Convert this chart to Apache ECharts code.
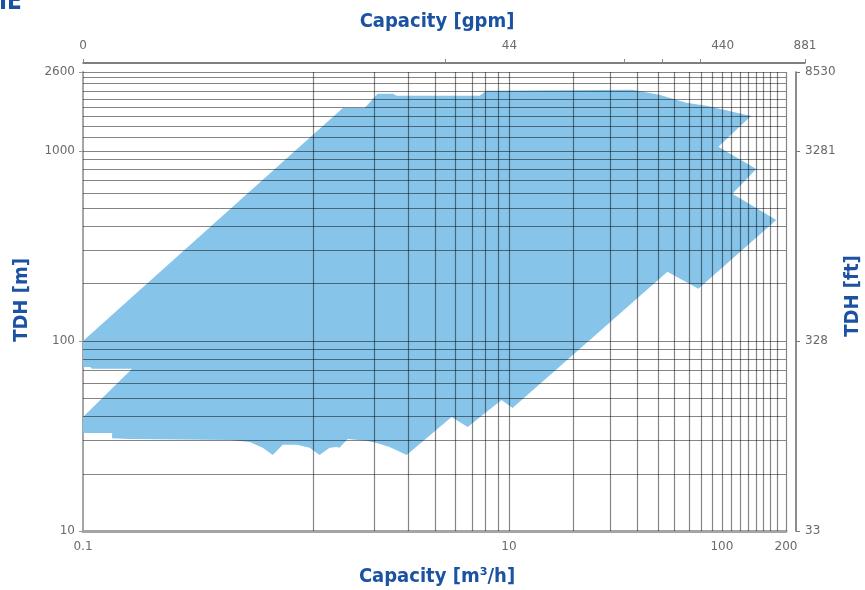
<!DOCTYPE html>
<html>
<head>
<meta charset="utf-8">
<script src="https://cdn.jsdelivr.net/npm/echarts@6/dist/echarts.min.js"></script>
<style>
html,body{margin:0;padding:0;background:#fff;}
#chart{width:865px;height:590px;}
</style>
</head>
<body>
<div id="chart"></div>
<script>
// Operating envelope (capacity m3/h, head m), traced clockwise
const envelopeQ = [0.1, 1.66, 2.10, 2.42, 2.85, 2.97, 7.28, 7.85, 38.0, 50.8, 68.0, 84.5, 137, 96.2, 145, 112, 180, 77.5, 55.5, 10.4, 9.23, 6.40, 5.38, 3.31, 2.75, 2.39, 2.15, 1.75, 1.60, 1.55, 1.44, 1.29, 1.16, 1.01, 0.867, 0.778, 0.698, 0.607, 0.489, 0.166, 0.137, 0.137, 0.1, 0.1, 0.170, 0.110, 0.108, 0.1];
const envelopeH = [100, 1683, 1683, 1995, 1995, 1948, 1948, 2070, 2094, 1972, 1790, 1727, 1528, 1050, 803, 594, 433, 188, 231, 44.4, 48.9, 35.3, 39.8, 25.1, 27.7, 29.0, 29.8, 30.5, 27.4, 27.7, 27.4, 25.1, 27.4, 28.4, 28.4, 25.1, 27.4, 29.4, 30.1, 30.5, 30.8, 32.8, 32.8, 39.8, 71.3, 71.3, 73.0, 73.0];

// grid lines
const xGridValues = [1.2, 2.32, 3.38, 4.53, 5.62, 6.75, 7.76, 8.93, 10, 20, 30, 40, 50, 60, 70, 80, 90, 100, 111, 122, 133, 145, 156, 168, 182, 200];
const yGridValues = [20, 30, 40, 50, 60, 70, 80, 90, 100, 200, 300, 400, 500, 600, 700, 800, 900, 1000, 1185, 1354, 1528, 1704, 1879, 2070, 2279, 2449, 2600];

// tick labels
const bottomTickValues = [0.1, 10, 100, 200];
const bottomTickLabels = ['0.1', '10', '100', '200'];
const leftTickValues = [10, 100, 1000, 2600];
const leftTickLabels = ['10', '100', '1000', '2600'];
const rightTickLabels = ['33', '328', '3281', '8530'];
const topTickValues = [0.1, 10, 100, 243.5];
const topTickLabels = ['0', '44', '440', '881'];
const topMinorTicks = [0.1, 5, 34.5, 52, 78.4, 243.5];

function nearestLabel(values, labels) {
  return function (v) {
    let best = 0, bd = Infinity;
    for (let i = 0; i < values.length; i++) {
      const d = Math.abs(Math.log(v) - Math.log(values[i]));
      if (d < bd) { bd = d; best = i; }
    }
    return labels[best];
  };
}

const blue = '#1c52a2';
const labelStyle = { color: '#6a6a6a', fontFamily: 'DejaVu Sans', fontSize: 12 };
const titleFont = { fontFamily: "'Liberation Sans Narrow', 'DejaVu Sans Condensed', 'Roboto Condensed', 'Liberation Sans', sans-serif", fontWeight: 'bold', fontSize: 20, fill: blue };

const chart = echarts.init(document.getElementById('chart'), null, { renderer: 'canvas' });

const points = envelopeQ.map((q, i) => [q, envelopeH[i]]);

chart.setOption({
  animation: false,
  backgroundColor: '#ffffff',
  grid: [
    { left: 83, right: 79, top: 72, bottom: 59 },
    { left: 83, right: 60, top: 62, height: 1 }
  ],
  xAxis: [
    {
      type: 'log', logBase: 10, min: 0.1, max: 200, gridIndex: 0, position: 'bottom',
      axisLine: { show: true, lineStyle: { color: '#a5a5a5', width: 3 } },
      axisTick: { show: false },
      splitLine: { show: false },
      axisLabel: Object.assign({ customValues: bottomTickValues, margin: 10,
        formatter: nearestLabel(bottomTickValues, bottomTickLabels) }, labelStyle)
    },
    {
      type: 'log', logBase: 10, min: 0.1, max: 243.5, gridIndex: 1, position: 'top',
      axisLine: { show: true, lineStyle: { color: '#555', width: 1.5 } },
      axisTick: { show: true, customValues: topMinorTicks, length: 4, lineStyle: { color: '#888' } },
      splitLine: { show: false },
      axisLabel: Object.assign({ customValues: topTickValues, margin: 10,
        formatter: nearestLabel(topTickValues, topTickLabels) }, labelStyle)
    }
  ],
  yAxis: [
    {
      type: 'log', logBase: 10, min: 10, max: 2600, gridIndex: 0, position: 'left',
      axisLine: { show: true, lineStyle: { color: '#a5a5a5', width: 2 } },
      axisTick: { show: true, customValues: leftTickValues, length: 4, lineStyle: { color: '#999' } },
      splitLine: { show: false },
      axisLabel: Object.assign({ customValues: leftTickValues, margin: 8,
        formatter: nearestLabel(leftTickValues, leftTickLabels) }, labelStyle)
    },
    {
      type: 'log', logBase: 10, min: 10, max: 2600, gridIndex: 0, position: 'right', offset: 10,
      axisLine: { show: true, lineStyle: { color: '#666', width: 1.5 } },
      axisTick: { show: true, customValues: leftTickValues, length: 4, lineStyle: { color: '#777' } },
      splitLine: { show: false },
      axisLabel: Object.assign({ customValues: leftTickValues, margin: 9,
        formatter: nearestLabel(leftTickValues, rightTickLabels) }, labelStyle)
    },
    { type: 'value', gridIndex: 1, min: 0, max: 1, show: false }
  ],
  series: [
    {
      type: 'custom',
      xAxisIndex: 0, yAxisIndex: 0,
      z: 2,
      clip: true,
      silent: true,
      encode: { x: 0, y: 1 },
      data: points,
      renderItem: function (params, api) {
        if (params.dataIndex !== 0) return null;
        const pts = points.map(p => api.coord(p));
        return {
          type: 'polygon',
          shape: { points: pts },
          style: { fill: '#86c5e9', stroke: null }
        };
      },
      markLine: {
        silent: true,
        symbol: ['none', 'none'],
        label: { show: false },
        animation: false,
        lineStyle: { color: 'rgba(0,0,0,0.48)', width: 1.2, type: 'solid' },
        emphasis: { disabled: true },
        data: xGridValues.map(v => ({ xAxis: v })).concat(yGridValues.map(v => ({ yAxis: v })))
      }
    }
  ],
  graphic: [
    { type: 'text', x: -1, y: 3, style: Object.assign({ text: 'IE', textAlign: 'left', textVerticalAlign: 'middle' }, titleFont, { fontSize: 24 }) },
    { type: 'text', x: 437, y: 22, style: Object.assign({ text: 'Capacity [gpm]', textAlign: 'center', textVerticalAlign: 'middle' }, titleFont) },
    { type: 'text', x: 437, y: 577, style: Object.assign({ text: 'Capacity [m³/h]', textAlign: 'center', textVerticalAlign: 'middle' }, titleFont) },
    { type: 'text', x: 22, y: 300, rotation: Math.PI / 2, style: Object.assign({ text: 'TDH [m]', textAlign: 'center', textVerticalAlign: 'middle' }, titleFont) },
    { type: 'text', x: 853, y: 296, rotation: Math.PI / 2, style: Object.assign({ text: 'TDH [ft]', textAlign: 'center', textVerticalAlign: 'middle' }, titleFont) }
  ]
});
</script>
</body>
</html>
